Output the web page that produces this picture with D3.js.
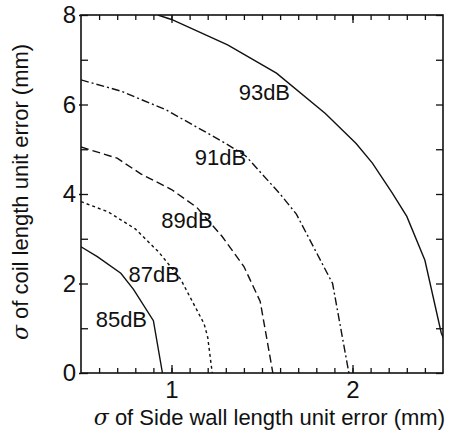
<!DOCTYPE html>
<html>
<head>
<meta charset="utf-8">
<script src="https://cdn.jsdelivr.net/npm/d3@7"></script>
<style>
  body { margin: 0; background: #fff; }
  svg { font-family: "Liberation Sans", Arial, Helvetica, sans-serif; }
</style>
</head>
<body>
<div id="viz"></div>
<script>
// contour levels (dB)
var levels = ['85dB', '87dB', '89dB', '91dB', '93dB'];

// side wall error sigma (mm) / coil error sigma (mm) for each contour
var x85 = [0.5, 0.59, 0.72, 0.79, 0.9, 0.95];
var y85 = [2.82, 2.6, 2.23, 1.87, 1.17, 0];

var x87 = [0.5, 0.65, 0.8, 0.93, 1.05, 1.18, 1.2, 1.225];
var y87 = [3.83, 3.6, 3.22, 2.7, 2.1, 1.1, 0.8, 0];

var x89 = [0.5, 0.7, 0.83, 1.0, 1.14, 1.28, 1.4, 1.49, 1.56];
var y89 = [5.05, 4.8, 4.45, 4.1, 3.7, 3.05, 2.38, 1.6, 0];

var x91 = [0.5, 0.72, 0.97, 1.3, 1.41, 1.6, 1.69, 1.89, 1.98];
var y91 = [6.55, 6.3, 5.88, 5.13, 4.85, 4.0, 3.55, 2.0, 0];

var x93 = [0.925, 1.0, 1.31, 1.58, 1.85, 2.02, 2.11, 2.22, 2.3, 2.4, 2.49, 2.52];
var y93 = [8, 7.9, 7.33, 6.7, 5.8, 5.13, 4.69, 4.02, 3.5, 2.52, 0.9, 0.6];

// where each level is labelled (data units)
var labelX = [0.723, 0.905, 1.086, 1.27, 1.513];
var labelY = [1.03, 2.03, 3.24, 4.65, 6.1];

var xTicks = [1, 2];
var yTicks = [0, 2, 4, 6, 8];

var width = 451, height = 431;
var margin = { top: 15, right: 8, bottom: 58, left: 81 };
var w = width - margin.left - margin.right,
    h = height - margin.top - margin.bottom;

var xScale = d3.scaleLinear().domain([0.5, 2.5]).range([0, w]);
var yScale = d3.scaleLinear().domain([0, 8]).range([h, 0]);

var svg = d3.select('#viz').append('svg')
    .attr('width', width)
    .attr('height', height);

svg.append('defs').append('clipPath').attr('id', 'clip')
  .append('rect').attr('width', w).attr('height', h);

var g = svg.append('g')
    .attr('transform', 'translate(' + margin.left + ',' + margin.top + ')');

var dashes = ['none', '3,3', '8,4', '8,3,2,3', 'none'];
var xs = [x85, x87, x89, x91, x93];
var ys = [y85, y87, y89, y91, y93];

var line = d3.line()
    .x(function(d) { return xScale(d[0]); })
    .y(function(d) { return yScale(d[1]); });

var curves = g.append('g').attr('clip-path', 'url(#clip)');
levels.forEach(function(lv, i) {
  var pts = xs[i].map(function(v, j) { return [v, ys[i][j]]; });
  curves.append('path')
    .datum(pts)
    .attr('d', line)
    .attr('fill', 'none')
    .attr('stroke', '#111')
    .attr('stroke-width', 1.4)
    .attr('stroke-dasharray', dashes[i]);
});

// contour labels
g.selectAll('.lbl').data(levels).enter().append('text')
    .attr('class', 'lbl')
    .attr('x', function(d, i) { return xScale(labelX[i]); })
    .attr('y', function(d, i) { return yScale(labelY[i]); })
    .attr('text-anchor', 'middle')
    .style('font-size', '22px')
    .style('fill', '#111')
    .text(function(d) { return d; });

// axes, ticks pointing inward
var minorX = d3.range(6, 25).map(function(d) { return d / 10; });
var minorY = d3.range(0, 9);

var bottom = g.append('g').attr('transform', 'translate(0,' + h + ')')
    .call(d3.axisTop(xScale).tickValues(minorX).tickSize(5).tickFormat(''));
var bottomMajor = g.append('g').attr('transform', 'translate(0,' + h + ')')
    .call(d3.axisBottom(xScale).tickValues(xTicks).tickSize(-8).tickPadding(8)
      .tickFormat(d3.format('d')));
var top = g.append('g')
    .call(d3.axisBottom(xScale).tickValues(minorX).tickSize(5).tickFormat(''));
var topMajor = g.append('g')
    .call(d3.axisBottom(xScale).tickValues(xTicks).tickSize(8).tickFormat(''));
var left = g.append('g')
    .call(d3.axisRight(yScale).tickValues(minorY).tickSize(7).tickFormat(''));
var leftLabels = g.append('g')
    .call(d3.axisLeft(yScale).tickValues(yTicks).tickSize(2).tickPadding(3)
      .tickFormat(d3.format('d')));
var right = g.append('g').attr('transform', 'translate(' + w + ',0)')
    .call(d3.axisLeft(yScale).tickValues(minorY).tickSize(7).tickFormat(''));

g.selectAll('.domain').remove();
g.selectAll('.tick line').attr('stroke', '#111').attr('stroke-width', 1.3);
g.selectAll('.tick text')
    .style('font-size', '24px')
    .style('fill', '#111')
    .attr('font-family', '"Liberation Sans", Arial, sans-serif');

g.append('rect')
    .attr('width', w).attr('height', h)
    .attr('fill', 'none')
    .attr('stroke', '#111')
    .attr('stroke-width', 1.6);

// axis titles
var xt = svg.append('text')
    .attr('x', margin.left + w + 2)
    .attr('y', height - 6)
    .attr('text-anchor', 'end')
    .style('font-size', '22px')
    .style('fill', '#111');
xt.append('tspan').style('font-style', 'italic').style('font-family', '"DejaVu Serif", serif').text('\u03c3');
xt.append('tspan').text('  of Side wall length unit error (mm)');

var yt = svg.append('text')
    .attr('transform', 'translate(28,' + (margin.top + h / 2 - 2) + ') rotate(-90)')
    .attr('text-anchor', 'middle')
    .style('font-size', '22px')
    .style('fill', '#111');
yt.append('tspan').style('font-style', 'italic').style('font-family', '"DejaVu Serif", serif').text('\u03c3');
yt.append('tspan').text('  of coil length unit error (mm)');
</script>
</body>
</html>
